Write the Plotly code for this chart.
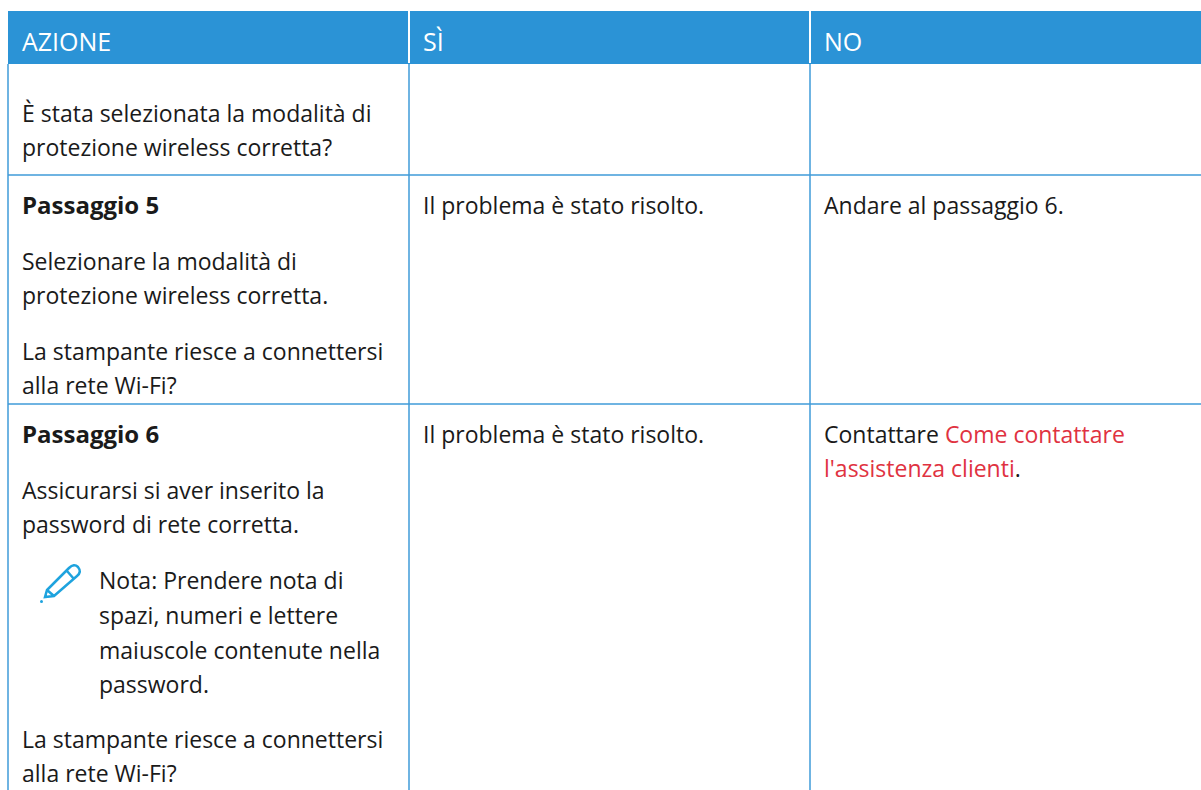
import plotly.graph_objects as go

# ---- content ----
headers = ["AZIONE", "SÌ", "NO"]
LINK = "#e03241"
col1_lines = [
    "È stata selezionata la modalità di",
    "protezione wireless corretta?",
    "<b>Passaggio 5</b>",
    "Selezionare la modalità di",
    "protezione wireless corretta.",
    "La stampante riesce a connettersi",
    "alla rete Wi-Fi?",
    "<b>Passaggio 6</b>",
    "Assicurarsi si aver inserito la",
    "password di rete corretta.",
    "Nota: Prendere nota di",
    "spazi, numeri e lettere",
    "maiuscole contenute nella",
    "password.",
    "La stampante riesce a connettersi",
    "alla rete Wi-Fi?",
]
col2_lines = ["Il problema è stato risolto.", "Il problema è stato risolto."]
col3_lines = [
    "Andare al passaggio 6.",
    f'Contattare <span style="color:{LINK}">Come contattare</span>',
    f'<span style="color:{LINK}">l\'assistenza clienti</span>.',
]

# ---- layout ----
W, H = 1201, 790
FONT = "Open Sans"
SIZE = 23
HEADER_BG = "#2b93d6"
RULE = "#3f9bd9"
TEXT = "#1a1a1a"
ICON = "#1ea3de"
col_x = [8, 409, 810, 1201]
header_top, header_bottom = 11, 64
row_lines = [175, 404]
PAD = 12  # text inset from the column rule

col1_y = [113, 147, 204, 261, 295, 351, 385, 433, 490, 524, 580, 615, 650, 684, 739, 773]
col1_indent = [0] * 10 + [77] * 4 + [0] * 2
col2_y = [205, 434]
col3_y = [205, 434, 468]

shapes = [
    dict(type="rect", x0=col_x[0], x1=col_x[3], y0=header_top, y1=header_bottom,
         fillcolor=HEADER_BG, line_width=0, layer="below"),
]
for x in col_x[1:3]:
    shapes.append(dict(type="line", x0=x, x1=x, y0=header_top, y1=header_bottom - 1,
                       line=dict(color="white", width=2)))
for x in col_x[:3]:
    shapes.append(dict(type="line", x0=x, x1=x, y0=header_bottom, y1=H,
                       line=dict(color=RULE, width=1.5)))
for y in row_lines:
    shapes.append(dict(type="line", x0=col_x[0], x1=col_x[3], y0=y, y1=y,
                       line=dict(color=RULE, width=1.5)))
# Pencil icon
shapes.append(dict(type="path",
                   path="M 45 597 L 47 590 L 69 568 Q 74 563 78 567 Q 82 572 77 576 L 54 596 Z "
                        "M 47 590 L 54 596 M 67 571 L 74 579",
                   line=dict(color=ICON, width=2.5), fillcolor="white"))
shapes.append(dict(type="circle", x0=40, x1=43, y0=600, y1=603,
                   fillcolor=ICON, line_width=0))


def label(x, y, text, color=TEXT, size=SIZE):
    return dict(x=x, y=y, text=text, showarrow=False, xanchor="left", yanchor="middle",
                font=dict(family=FONT, size=size, color=color))


annotations = []
for x, h in zip(col_x, headers):
    annotations.append(label(x + PAD, (header_top + header_bottom) / 2 + 3, h, "white", 25))
for y, t, ind in zip(col1_y, col1_lines, col1_indent):
    annotations.append(label(col_x[0] + PAD + ind, y, t, size=24 if t.startswith("<b>") else SIZE))
for y, t in zip(col2_y, col2_lines):
    annotations.append(label(col_x[1] + PAD, y, t))
for y, t in zip(col3_y, col3_lines):
    annotations.append(label(col_x[2] + PAD, y, t))

fig = go.Figure()
fig.update_layout(
    width=W, height=H, margin=dict(l=0, r=0, t=0, b=0),
    paper_bgcolor="white", plot_bgcolor="white", showlegend=False,
    xaxis=dict(range=[0, W], visible=False, fixedrange=True),
    yaxis=dict(range=[H, 0], visible=False, fixedrange=True),
    shapes=shapes, annotations=annotations,
)
fig.write_html("out.html", config=dict(displayModeBar=False),
               post_script="document.body.style.margin='0';document.body.style.overflow='hidden';")
